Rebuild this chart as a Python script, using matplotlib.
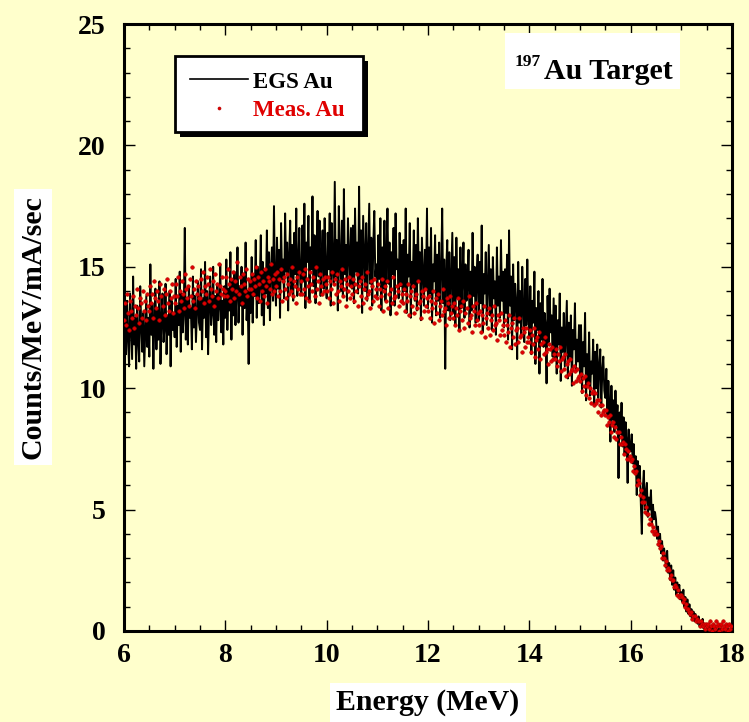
import numpy as np
import matplotlib
matplotlib.use("Agg")
import matplotlib.pyplot as plt
from matplotlib.patches import Rectangle
from matplotlib.lines import Line2D
from matplotlib.ticker import MultipleLocator

# Photon spectrum on a 197Au target: EGS simulation vs. measurement
# Both spectra are binned on the same energy grid (MeV), 0.02 MeV bins from 6 MeV.
energy_start = 6.0
energy_step = 0.02

# EGS simulated spectrum (Counts/MeV/mA/sec), 25 bins per row = 0.5 MeV
egs_au = [
    10.2, 12.8, 11.4, 13.6, 12.1, 10.9, 13.9, 12.5, 11.2, 14.6, 11.8, 12.9, 10.8, 13.4, 12.0, 11.1, 14.2, 12.6, 11.5, 13.1, 10.9, 12.4, 13.8, 11.7, 12.9,
    11.3, 15.1, 12.2, 13.5, 10.8, 12.9, 14.1, 11.6, 13.3, 12.0, 14.4, 11.0, 12.8, 13.9, 11.9, 12.5, 14.3, 11.4, 13.0, 12.2, 14.0, 10.9, 13.6, 12.4, 13.1,
    12.1, 14.5, 11.7, 13.4, 12.6, 14.8, 11.5, 13.9, 12.3, 13.1, 16.6, 12.0, 13.7, 11.8, 14.2, 12.9, 13.3, 11.6, 14.6, 12.5, 13.8, 11.9, 13.2, 14.4, 12.7,
    12.4, 14.9, 11.6, 13.7, 12.9, 15.2, 12.1, 14.0, 11.4, 13.5, 14.6, 12.6, 13.1, 15.0, 12.2, 13.8, 11.9, 14.3, 12.8, 13.4, 15.1, 12.3, 13.6, 11.8, 14.2,
    12.9, 15.3, 12.4, 14.1, 13.2, 15.6, 12.0, 14.5, 13.0, 14.8, 12.6, 13.9, 15.8, 12.7, 14.2, 13.4, 15.0, 12.2, 14.6, 13.3, 16.0, 12.8, 14.0, 11.0, 14.4,
    13.1, 15.4, 12.7, 14.6, 13.8, 16.1, 12.9, 15.0, 13.5, 14.3, 16.3, 13.0, 15.2, 12.6, 14.8, 13.9, 16.5, 13.3, 15.6, 12.8, 14.9, 15.8, 13.6, 17.5, 14.2,
    13.4, 16.2, 14.1, 15.7, 12.9, 16.8, 14.5, 15.3, 13.7, 17.2, 14.8, 16.0, 13.2, 15.5, 16.9, 14.0, 15.9, 13.6, 16.4, 14.7, 17.4, 13.8, 15.1, 16.6, 14.3,
    13.9, 16.7, 14.4, 17.6, 13.3, 16.0, 15.2, 17.1, 13.6, 15.8, 14.9, 17.9, 14.2, 16.3, 13.5, 15.6, 17.3, 14.6, 16.9, 13.8, 15.4, 16.5, 14.1, 17.0, 14.8,
    13.7, 16.4, 14.9, 17.2, 13.4, 16.8, 15.0, 14.3, 18.5, 14.6, 16.1, 13.2, 17.5, 15.3, 14.0, 16.9, 13.8, 18.2, 14.7, 15.9, 13.6, 17.0, 15.5, 14.2, 16.6,
    14.1, 16.7, 13.5, 17.4, 14.8, 16.0, 13.9, 18.3, 14.4, 16.5, 13.1, 17.1, 15.6, 14.0, 16.8, 13.6, 15.7, 17.6, 14.3, 16.2, 13.4, 15.9, 17.3, 14.6, 15.1,
    13.8, 16.3, 14.5, 17.0, 13.2, 15.8, 14.1, 16.9, 13.6, 15.4, 17.4, 14.3, 16.0, 13.0, 15.6, 14.7, 16.6, 13.4, 17.2, 14.9, 15.3, 13.7, 16.4, 14.2, 15.9,
    13.5, 16.1, 14.0, 17.4, 13.1, 15.5, 14.6, 16.8, 12.9, 15.2, 14.3, 16.5, 13.6, 15.9, 13.2, 17.0, 14.4, 15.6, 12.8, 16.2, 14.8, 13.4, 15.7, 14.1, 17.4,
    13.3, 15.8, 13.9, 16.6, 12.7, 15.1, 14.4, 16.3, 13.0, 15.5, 13.6, 16.0, 12.9, 14.8, 17.4, 13.5, 15.3, 10.8, 14.9, 16.1, 13.2, 15.6, 12.8, 14.6, 16.4,
    13.1, 15.4, 12.6, 16.2, 13.7, 14.9, 12.4, 15.8, 13.3, 14.5, 16.0, 12.9, 15.1, 13.6, 14.3, 15.7, 12.5, 14.8, 13.2, 16.4, 13.8, 15.0, 12.7, 14.6, 15.5,
    12.8, 15.2, 13.5, 16.7, 12.3, 14.7, 13.9, 15.6, 12.6, 14.2, 15.9, 13.0, 14.9, 12.4, 15.4, 13.7, 14.4, 12.2, 15.8, 13.4, 14.6, 12.9, 16.1, 13.6, 14.8,
    12.5, 14.9, 13.1, 15.5, 12.0, 16.5, 13.4, 14.6, 11.6, 15.1, 12.8, 14.3, 13.5, 11.2, 15.2, 12.7, 14.0, 12.2, 15.0, 13.3, 11.9, 14.5, 12.6, 15.3, 12.9,
    12.1, 14.2, 11.4, 13.6, 12.7, 14.8, 11.0, 13.3, 12.4, 14.0, 10.6, 13.5, 12.0, 14.5, 11.7, 13.1, 12.6, 10.2, 13.8, 11.9, 14.1, 12.3, 13.0, 11.3, 13.7,
    11.2, 13.4, 10.6, 12.8, 11.8, 13.9, 10.3, 12.5, 11.5, 13.1, 10.9, 12.2, 13.6, 10.4, 12.7, 11.3, 13.0, 10.1, 12.4, 11.6, 13.5, 10.8, 12.0, 11.1, 12.6,
    10.5, 12.6, 9.8, 11.9, 10.9, 13.1, 9.5, 11.4, 10.2, 12.3, 9.7, 11.1, 10.6, 12.0, 9.3, 11.5, 10.0, 11.8, 9.6, 10.9, 11.6, 9.2, 10.7, 11.3, 9.9,
    9.6, 10.8, 8.9, 10.3, 9.2, 7.8, 10.1, 8.7, 9.5, 8.2, 9.9, 8.5, 9.3, 6.3, 9.0, 8.1, 9.4, 7.6, 8.8, 7.3, 8.6, 7.9, 6.1, 8.3, 7.5,
    7.4, 8.1, 6.9, 7.7, 6.5, 7.2, 5.6, 7.0, 6.2, 6.8, 5.3, 4.0, 5.9, 6.6, 5.0, 5.7, 6.1, 4.7, 5.5, 5.0, 5.8, 4.4, 5.2, 4.6, 4.9,
    4.6, 3.8, 4.3, 3.5, 4.0, 3.2, 3.7, 2.9, 3.4, 3.0, 2.6, 3.3, 2.4, 2.8, 2.1, 2.7, 1.9, 2.5, 1.7, 2.2, 1.5, 2.0, 1.6, 1.9, 1.3,
    1.6, 1.2, 1.7, 1.0, 1.4, 0.8, 1.3, 0.7, 1.1, 0.6, 0.9, 0.5, 0.8, 0.4, 0.7, 0.5, 0.3, 0.6, 0.2, 0.4, 0.3, 0.5, 0.1, 0.3, 0.2,
    0.2, 0.0, 0.3, 0.1, 0.0, 0.2, 0.1, 0.0, 0.1, 0.2, 0.0, 0.0, 0.1, 0.0, 0.1, 0.0, 0.0, 0.1, 0.0, 0.0, 0.0, 0.1, 0.0, 0.0, 0.0,
]

# Measured spectrum (Counts/MeV/mA/sec), same binning
meas_au = [
    12.8, 13.5, 12.6, 13.9, 13.1, 12.4, 13.6, 13.2, 12.9, 13.8, 12.5, 13.4, 13.0, 14.1, 13.3, 12.7, 13.7, 13.5, 12.9, 14.0, 13.2, 13.6, 12.8, 13.9, 13.4,
    13.2, 14.2, 13.5, 13.9, 12.9, 14.4, 13.7, 13.3, 14.0, 13.6, 12.8, 14.3, 13.8, 13.4, 14.1, 13.0, 13.9, 14.5, 13.5, 13.2, 14.0, 13.7, 14.3, 13.1, 13.8,
    13.5, 14.3, 13.8, 14.6, 13.2, 14.0, 13.6, 14.4, 13.9, 13.3, 14.7, 14.1, 13.7, 14.2, 13.4, 14.5, 13.8, 15.0, 13.6, 14.1, 13.3, 14.4, 13.9, 14.2, 13.7,
    13.7, 14.5, 14.0, 14.8, 13.5, 14.2, 13.9, 14.6, 14.3, 13.6, 14.9, 14.1, 13.8, 14.4, 13.4, 14.7, 14.0, 14.3, 13.7, 15.1, 14.2, 13.9, 14.6, 14.1, 13.8,
    14.0, 14.6, 13.8, 14.9, 14.3, 13.6, 14.5, 14.1, 14.8, 13.7, 14.4, 14.0, 15.2, 13.9, 14.6, 14.2, 13.5, 14.7, 14.3, 14.0, 14.9, 13.8, 14.5, 14.1, 14.4,
    14.1, 14.7, 13.9, 14.5, 14.2, 15.0, 13.7, 14.6, 14.3, 13.6, 14.8, 14.0, 14.4, 13.8, 14.9, 14.2, 13.5, 14.6, 14.4, 14.1, 15.1, 13.9, 14.5, 14.0, 14.7,
    14.2, 14.8, 13.8, 14.5, 14.0, 14.9, 13.6, 14.4, 14.6, 14.1, 13.7, 14.7, 14.3, 13.9, 14.5, 14.0, 15.0, 13.8, 14.4, 14.2, 13.5, 14.6, 14.1, 14.8, 13.9,
    14.4, 13.9, 14.7, 14.1, 14.9, 13.7, 14.5, 14.2, 13.6, 14.8, 14.3, 14.0, 14.6, 13.8, 15.0, 14.1, 14.4, 13.5, 14.7, 14.2, 13.9, 14.5, 14.0, 14.6, 14.3,
    14.0, 14.6, 13.7, 14.4, 14.1, 14.8, 13.5, 14.3, 14.5, 13.9, 14.7, 14.0, 13.6, 14.4, 14.2, 14.9, 13.8, 14.1, 14.5, 13.4, 14.3, 14.0, 14.6, 13.7, 14.2,
    13.9, 14.5, 13.6, 14.3, 14.0, 14.7, 13.4, 14.2, 14.4, 13.8, 14.6, 13.5, 14.1, 14.3, 13.7, 14.8, 13.9, 14.0, 13.3, 14.4, 14.2, 13.6, 14.5, 13.8, 14.1,
    13.7, 14.3, 13.4, 14.1, 13.8, 14.5, 13.2, 14.0, 14.2, 13.6, 14.4, 13.3, 13.9, 14.1, 13.5, 14.6, 13.7, 13.8, 13.1, 14.2, 14.0, 13.4, 14.3, 13.6, 13.9,
    13.5, 14.1, 13.2, 13.9, 13.6, 14.3, 13.0, 13.8, 14.0, 13.4, 14.2, 13.1, 13.7, 13.9, 13.3, 14.4, 13.5, 13.6, 12.9, 14.0, 13.8, 13.2, 14.1, 13.4, 13.7,
    13.2, 13.8, 12.9, 13.6, 13.3, 14.0, 12.7, 13.5, 13.7, 13.1, 13.9, 12.8, 13.4, 13.6, 13.0, 14.1, 13.2, 13.3, 12.6, 13.7, 13.5, 12.9, 13.8, 13.1, 13.4,
    12.9, 13.5, 12.6, 13.3, 13.0, 13.7, 12.4, 13.2, 13.4, 12.8, 13.6, 12.5, 13.1, 13.3, 12.7, 13.8, 12.9, 13.0, 12.3, 13.4, 13.2, 12.6, 13.5, 12.8, 13.1,
    12.6, 13.2, 12.3, 13.0, 12.7, 13.4, 12.1, 12.9, 13.1, 12.5, 13.3, 12.2, 12.8, 13.0, 12.4, 13.4, 12.6, 12.7, 12.0, 13.0, 12.8, 12.2, 13.1, 12.4, 12.6,
    12.2, 12.8, 11.9, 12.6, 12.3, 13.0, 11.7, 12.5, 12.7, 12.1, 12.9, 11.8, 12.4, 12.5, 11.9, 12.9, 12.1, 12.2, 11.5, 12.5, 12.3, 11.7, 12.5, 11.9, 12.1,
    11.9, 12.4, 11.5, 12.2, 11.8, 12.5, 11.3, 12.0, 12.1, 11.6, 12.3, 11.2, 11.8, 11.9, 11.4, 12.1, 11.5, 11.6, 11.0, 11.8, 11.6, 11.1, 11.7, 11.2, 11.4,
    11.2, 11.6, 10.9, 11.4, 11.1, 11.7, 10.7, 11.2, 11.3, 10.8, 11.4, 10.5, 11.0, 11.1, 10.6, 11.2, 10.7, 10.8, 10.2, 10.9, 10.7, 10.3, 10.8, 10.4, 10.5,
    10.3, 10.6, 9.9, 10.4, 10.1, 10.5, 9.7, 10.1, 10.2, 9.6, 10.0, 9.4, 9.8, 9.9, 9.3, 9.8, 9.4, 9.5, 9.0, 9.5, 9.3, 8.9, 9.3, 9.0, 9.1,
    8.9, 9.1, 8.5, 8.8, 8.6, 8.9, 8.2, 8.5, 8.6, 8.0, 8.4, 7.9, 8.2, 8.2, 7.7, 8.0, 7.7, 7.8, 7.3, 7.7, 7.5, 7.1, 7.4, 7.1, 7.2,
    7.0, 7.1, 6.6, 6.8, 6.5, 6.6, 6.0, 6.2, 6.1, 5.6, 5.8, 5.3, 5.5, 5.3, 4.9, 5.1, 4.8, 4.8, 4.4, 4.6, 4.4, 4.1, 4.3, 4.0, 4.1,
    4.0, 4.0, 3.6, 3.7, 3.4, 3.5, 3.0, 3.2, 3.0, 2.7, 2.9, 2.5, 2.6, 2.5, 2.2, 2.3, 2.1, 2.1, 1.8, 1.9, 1.8, 1.5, 1.7, 1.4, 1.5,
    1.5, 1.4, 1.2, 1.3, 1.0, 1.1, 0.9, 0.9, 0.8, 0.7, 0.8, 0.5, 0.6, 0.6, 0.4, 0.5, 0.4, 0.4, 0.2, 0.4, 0.3, 0.2, 0.3, 0.1, 0.3,
    0.2, 0.3, 0.1, 0.4, 0.2, 0.0, 0.3, 0.2, 0.1, 0.4, 0.2, 0.3, 0.0, 0.2, 0.3, 0.1, 0.4, 0.2, 0.1, 0.3, 0.2, 0.0, 0.3, 0.1, 0.2,
]

x_ticks = [6, 8, 10, 12, 14, 16, 18]
y_ticks = [0, 5, 10, 15, 20, 25]

W, H = 749, 722
BG = "#ffffcc"
SERIF = ["Liberation Serif", "DejaVu Serif"]
MEAS_RED = "#e00000"

plt.rcParams["font.family"] = SERIF
plt.rcParams["font.weight"] = "bold"

energy = energy_start + energy_step * np.arange(len(egs_au))

fig = plt.figure(figsize=(W / 100, H / 100), dpi=100, facecolor=BG)
ax = fig.add_axes([124 / W, 1 - 631 / H, (732 - 124) / W, (631 - 24) / H])
ax.set_facecolor(BG)

ax.plot(energy, egs_au, color="black", lw=1.4, zorder=2)
ax.plot(energy, meas_au, linestyle="none", marker="o", ms=2.6,
        mfc=MEAS_RED, mec="#b00000", mew=0.4, zorder=3)

ax.set_xlim(6, 18)
ax.set_ylim(0, 25)
ax.set_xticks(x_ticks)
ax.set_yticks(y_ticks)
ax.xaxis.set_minor_locator(MultipleLocator(0.5))
ax.yaxis.set_minor_locator(MultipleLocator(1))
ax.tick_params(which="both", direction="in", top=True, right=True, width=1.0)
ax.tick_params(which="major", length=8)
ax.tick_params(which="minor", length=4.3)
ax.tick_params(axis="y", which="major", pad=13, labelsize=20)
ax.tick_params(axis="x", which="major", pad=9, labelsize=20)
for lab in ax.get_xticklabels() + ax.get_yticklabels():
    lab.set_fontweight("bold")
for sp in ax.spines.values():
    sp.set_linewidth(2.2)


def fx(px):
    return px / W


def fy(py):
    return 1 - py / H


# Axis titles on white panels
fig.text(fx(33), fy(327), "Counts/MeV/mA/sec", rotation=90, ha="center", va="center",
         fontsize=21.5, fontweight="bold",
         bbox=dict(facecolor="white", edgecolor="none", pad=4))
fig.text(fx(428), fy(703), "Energy (MeV)", ha="center", va="center",
         fontsize=21.5, fontweight="bold",
         bbox=dict(facecolor="white", edgecolor="none", pad=5))

# Legend panel with drop shadow
lx0, ly0, lx1, ly1 = 175, 56, 363, 132
fig.patches.append(Rectangle((fx(lx0 + 5), fy(ly1 + 5)), fx(lx1 - lx0), (ly1 - ly0) / H,
                             transform=fig.transFigure, facecolor="black",
                             edgecolor="black", lw=0, zorder=5))
fig.patches.append(Rectangle((fx(lx0), fy(ly1)), fx(lx1 - lx0), (ly1 - ly0) / H,
                             transform=fig.transFigure, facecolor="white",
                             edgecolor="black", lw=2, zorder=6))
fig.lines.append(Line2D([fx(190), fx(248)], [fy(79), fy(79)], transform=fig.transFigure,
                        color="black", lw=1.2, zorder=7))
fig.lines.append(Line2D([fx(219)], [fy(108)], transform=fig.transFigure, linestyle="none",
                        marker="o", ms=2.2, mfc=MEAS_RED, mec="#b00000", mew=0.4, zorder=7))
fig.text(fx(253), fy(82), "EGS Au", ha="left", va="center", fontsize=16.5,
         fontweight="bold", color="black", zorder=8)
fig.text(fx(253), fy(110), "Meas. Au", ha="left", va="center", fontsize=16.5,
         fontweight="bold", color=MEAS_RED, zorder=8)

# Target annotation
fig.patches.append(Rectangle((fx(505), fy(89)), fx(680 - 505), (89 - 33) / H,
                             transform=fig.transFigure, facecolor="white",
                             edgecolor="none", zorder=5))
fig.text(fx(515), fy(66), "197", ha="left", va="baseline", fontsize=12.5,
         fontweight="bold", zorder=8)
fig.text(fx(544), fy(79), "Au Target", ha="left", va="baseline", fontsize=21.5,
         fontweight="bold", zorder=8)

fig.savefig("out.png", dpi=100, facecolor=BG)
